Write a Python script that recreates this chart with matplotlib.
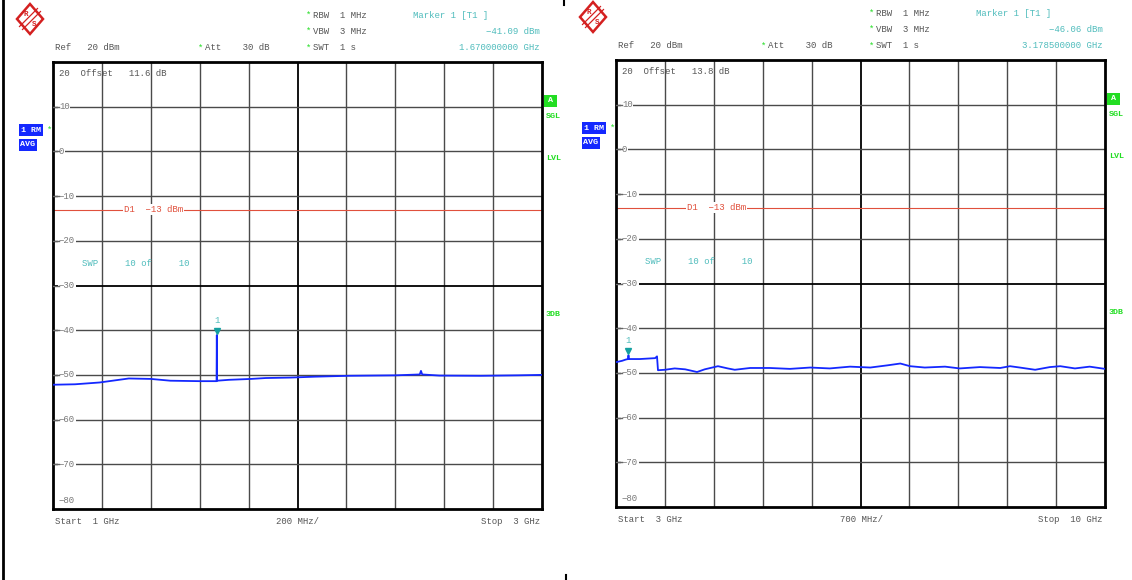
import matplotlib.pyplot as plt
import matplotlib.patches as mpatches
import numpy as np

# --- data ---
# left sweep: 1 - 3 GHz
left_freq = [1.0, 1.09, 1.19, 1.31, 1.40, 1.48, 1.60, 1.669, 1.670, 1.671, 1.72, 1.81,
             1.87, 1.97, 2.07, 2.21, 2.40, 2.50, 2.505, 2.51, 2.58, 2.75, 2.9, 3.0]
left_level = [-52.2, -52.1, -51.7, -50.8, -50.9, -51.3, -51.4, -51.4, -41.09, -51.3, -51.1, -50.9,
              -50.7, -50.6, -50.4, -50.2, -50.1, -49.9, -49.1, -49.9, -50.15, -50.2, -50.1, -50.0]
# right sweep: 3 - 10 GHz
right_freq = [3.0, 3.086, 3.143, 3.175, 3.1785, 3.182, 3.34, 3.56, 3.587, 3.601, 3.70, 3.84,
              3.99, 4.16, 4.27, 4.46, 4.60, 4.70, 4.92, 5.20, 5.49, 5.78, 6.06, 6.35, 6.64,
              6.89, 7.07, 7.21, 7.42, 7.71, 7.92, 8.21, 8.50, 8.64, 8.78, 9.00, 9.21, 9.36,
              9.57, 9.78, 10.0]
right_level = [-47.6, -47.3, -47.0, -46.9, -46.06, -46.9, -46.9, -46.7, -46.3, -49.4, -49.3, -49.0,
               -49.2, -49.8, -49.2, -48.5, -49.0, -49.3, -48.9, -48.9, -49.1, -48.8, -49.0, -48.6, -48.8,
               -48.3, -47.9, -48.5, -48.8, -48.6, -49.0, -48.7, -48.9, -48.5, -48.8, -49.3, -48.7, -48.5,
               -49.0, -48.6, -49.1]

panels = [
    dict(freq=left_freq, level=left_level, span=(1.0, 3.0), marker=(1.670, -41.09),
         offset="11.6", mk_level="-41.09 dBm", mk_freq="1.670000000 GHz",
         start="Start  1 GHz", div="200 MHz/", stop="Stop  3 GHz", x0=53, top=62, bottom=509),
    dict(freq=right_freq, level=right_level, span=(3.0, 10.0), marker=(3.1785, -46.06),
         offset="13.8", mk_level="-46.06 dBm", mk_freq="3.178500000 GHz",
         start="Start  3 GHz", div="700 MHz/", stop="Stop  10 GHz", x0=616, top=60, bottom=507),
]
y_labels = [10, 0, -10, -20, -30, -40, -50, -60, -70]
ref_line = -13

W, H = 1132, 580
fig = plt.figure(figsize=(W / 100, H / 100), dpi=100)
fig.patch.set_facecolor("white")

MONO = "Liberation Mono"
FS = 6.5
GRAY = "#555555"
TEAL = "#4fbcbc"
GREEN = "#22dd22"
BLUE = "#1428ff"
RED = "#e0503c"
LOGO = "#d42020"


def P(x, y):
    return x / W, 1 - y / H


def ft(x, y, s, **kw):
    kw.setdefault("color", GRAY)
    kw.setdefault("fontsize", FS)
    kw.setdefault("family", MONO)
    kw.setdefault("va", "center")
    fig.text(*P(x, y), s, **kw)


def box(x, y, w, h, color):
    fig.patches.append(mpatches.Rectangle(P(x, y + h), w / W, h / H, fc=color, ec="none",
                                          transform=fig.transFigure))


def logo(cx, cy):
    rx, ry = 13, 15
    d = mpatches.Polygon([P(cx, cy - ry), P(cx + rx, cy), P(cx, cy + ry), P(cx - rx, cy)],
                         closed=True, fill=False, ec=LOGO, lw=1.8, transform=fig.transFigure)
    fig.patches.append(d)
    for k in (-1.5, 1.5):
        a = P(cx + 9 + k, cy - 9 + k)
        b = P(cx - 9 + k, cy + 9 + k)
        fig.add_artist(plt.Line2D([a[0], b[0]], [a[1], b[1]], color=LOGO, lw=0.9))
    ft(cx - 4, cy - 5, "R", color=LOGO, fontsize=5.5, ha="center", weight="bold")
    ft(cx + 4, cy + 6, "S", color=LOGO, fontsize=5.5, ha="center", weight="bold")


for p in panels:
    x0, top, bottom = p["x0"], p["top"], p["bottom"]
    w = 489
    ax = fig.add_axes([x0 / W, 1 - bottom / H, w / W, (bottom - top) / H])
    f0, f1 = p["span"]
    ax.set_xlim(f0, f1)
    ax.set_ylim(-80, 20)
    ax.set_xticks([])
    ax.set_yticks([])
    for s in ax.spines.values():
        s.set_linewidth(2)
        s.set_color("black")

    # graticule
    for i in range(1, 10):
        xv = f0 + (f1 - f0) * i / 10
        ax.axvline(xv, color="black" if i == 5 else "#4a4a4a", lw=1.3 if i == 5 else 1.0, zorder=1)
    for yv in y_labels:
        ax.axhline(yv, color="black" if yv == -30 else "#4a4a4a", lw=1.3 if yv == -30 else 1.0, zorder=1)
        ax.text(0.012, yv, str(yv).replace("-", "\u2212"), transform=ax.get_yaxis_transform(),
                fontsize=FS, family=MONO, color="#777777", va="center", ha="left",
                bbox=dict(fc="white", ec="none", pad=0.6), zorder=3)
        ax.plot([0, 0.012], [yv, yv], transform=ax.get_yaxis_transform(), color="#666666", lw=1, zorder=4)
    ax.text(0.012, 0.02, "\u221280", transform=ax.transAxes, fontsize=FS, family=MONO,
            color="#777777", va="center", ha="left")

    # display line D1
    lab_x = f0 + (f1 - f0) * 0.145
    ax.axhline(ref_line, color=RED, lw=0.8, zorder=2)
    ax.text(lab_x, ref_line, "D1  \u221213 dBm", fontsize=FS, family=MONO, color=RED,
            va="center", ha="left", bbox=dict(fc="white", ec="none", pad=1.0), zorder=3)

    # trace
    ax.plot(p["freq"], p["level"], color=BLUE, lw=1.3, zorder=5)
    mf, ml = p["marker"]
    ax.plot([mf], [ml + 0.9], marker="v", color="#14a0a0", ms=5, zorder=6)
    ax.text(mf, ml + 3.2, "1", fontsize=FS, family=MONO, color=TEAL, ha="center", va="center")

    ax.text(0.06, 0.55, "SWP     10 of     10", transform=ax.transAxes, fontsize=FS,
            family=MONO, color=TEAL, va="center")
    ax.text(0.012, 0.975, "20  Offset   %s dB" % p["offset"], transform=ax.transAxes,
            fontsize=FS, family=MONO, color=GRAY, va="center")

    # header
    ft(x0 + 2, top - 14, "Ref   20 dBm")
    ft(x0 + 145, top - 14, "*", color=GREEN)
    ft(x0 + 152, top - 14, "Att    30 dB")
    for k, s in enumerate(["RBW  1 MHz", "VBW  3 MHz", "SWT  1 s"]):
        yy = top - 47 + k * 16.5
        ft(x0 + 253, yy, "*", color=GREEN)
        ft(x0 + 260, yy, s)
    ft(x0 + 360, top - 47, "Marker 1 [T1 ]", color=TEAL)
    ft(x0 + 487, top - 30, p["mk_level"].replace("-", "\u2212"), color=TEAL, ha="right")
    ft(x0 + 487, top - 14, p["mk_freq"], color=TEAL, ha="right")

    # footer
    ft(x0 + 2, bottom + 12, p["start"])
    ft(x0 + 245, bottom + 12, p["div"], ha="center")
    ft(x0 + 487, bottom + 12, p["stop"], ha="right")

    # left status boxes
    bx = x0 - 34
    box(bx, top + 62, 24, 12, BLUE)
    ft(bx + 2, top + 68, "1 RM", color="white", fontsize=6, weight="bold")
    ft(bx + 28, top + 68, "*", color=GREEN)
    box(bx, top + 77, 18, 12, BLUE)
    ft(bx + 1, top + 83, "AVG", color="white", fontsize=6, weight="bold")

    # right status labels
    rx = x0 + w + 2
    box(rx, top + 33, 13, 12, GREEN)
    ft(rx + 6.5, top + 39, "A", color="white", fontsize=6, weight="bold", ha="center")
    ft(rx + 2, top + 54, "SGL", color=GREEN, fontsize=6, weight="bold")
    ft(rx + 2, top + 96, "LVL", color=GREEN, fontsize=6, weight="bold")
    ft(rx + 2, top + 253, "3DB", color=GREEN, fontsize=6, weight="bold")

    logo(x0 - 23, top - 43)

# outer frame bits
fig.add_artist(plt.Line2D([3 / W, 3 / W], [0, 1], color="black", lw=2))
fig.add_artist(plt.Line2D([566 / W, 566 / W], [0, 5 / H], color="black", lw=1.5))
fig.add_artist(plt.Line2D([564 / W, 564 / W], [1 - 5 / H, 1], color="black", lw=1.5))

fig.savefig("out.png", dpi=100)
